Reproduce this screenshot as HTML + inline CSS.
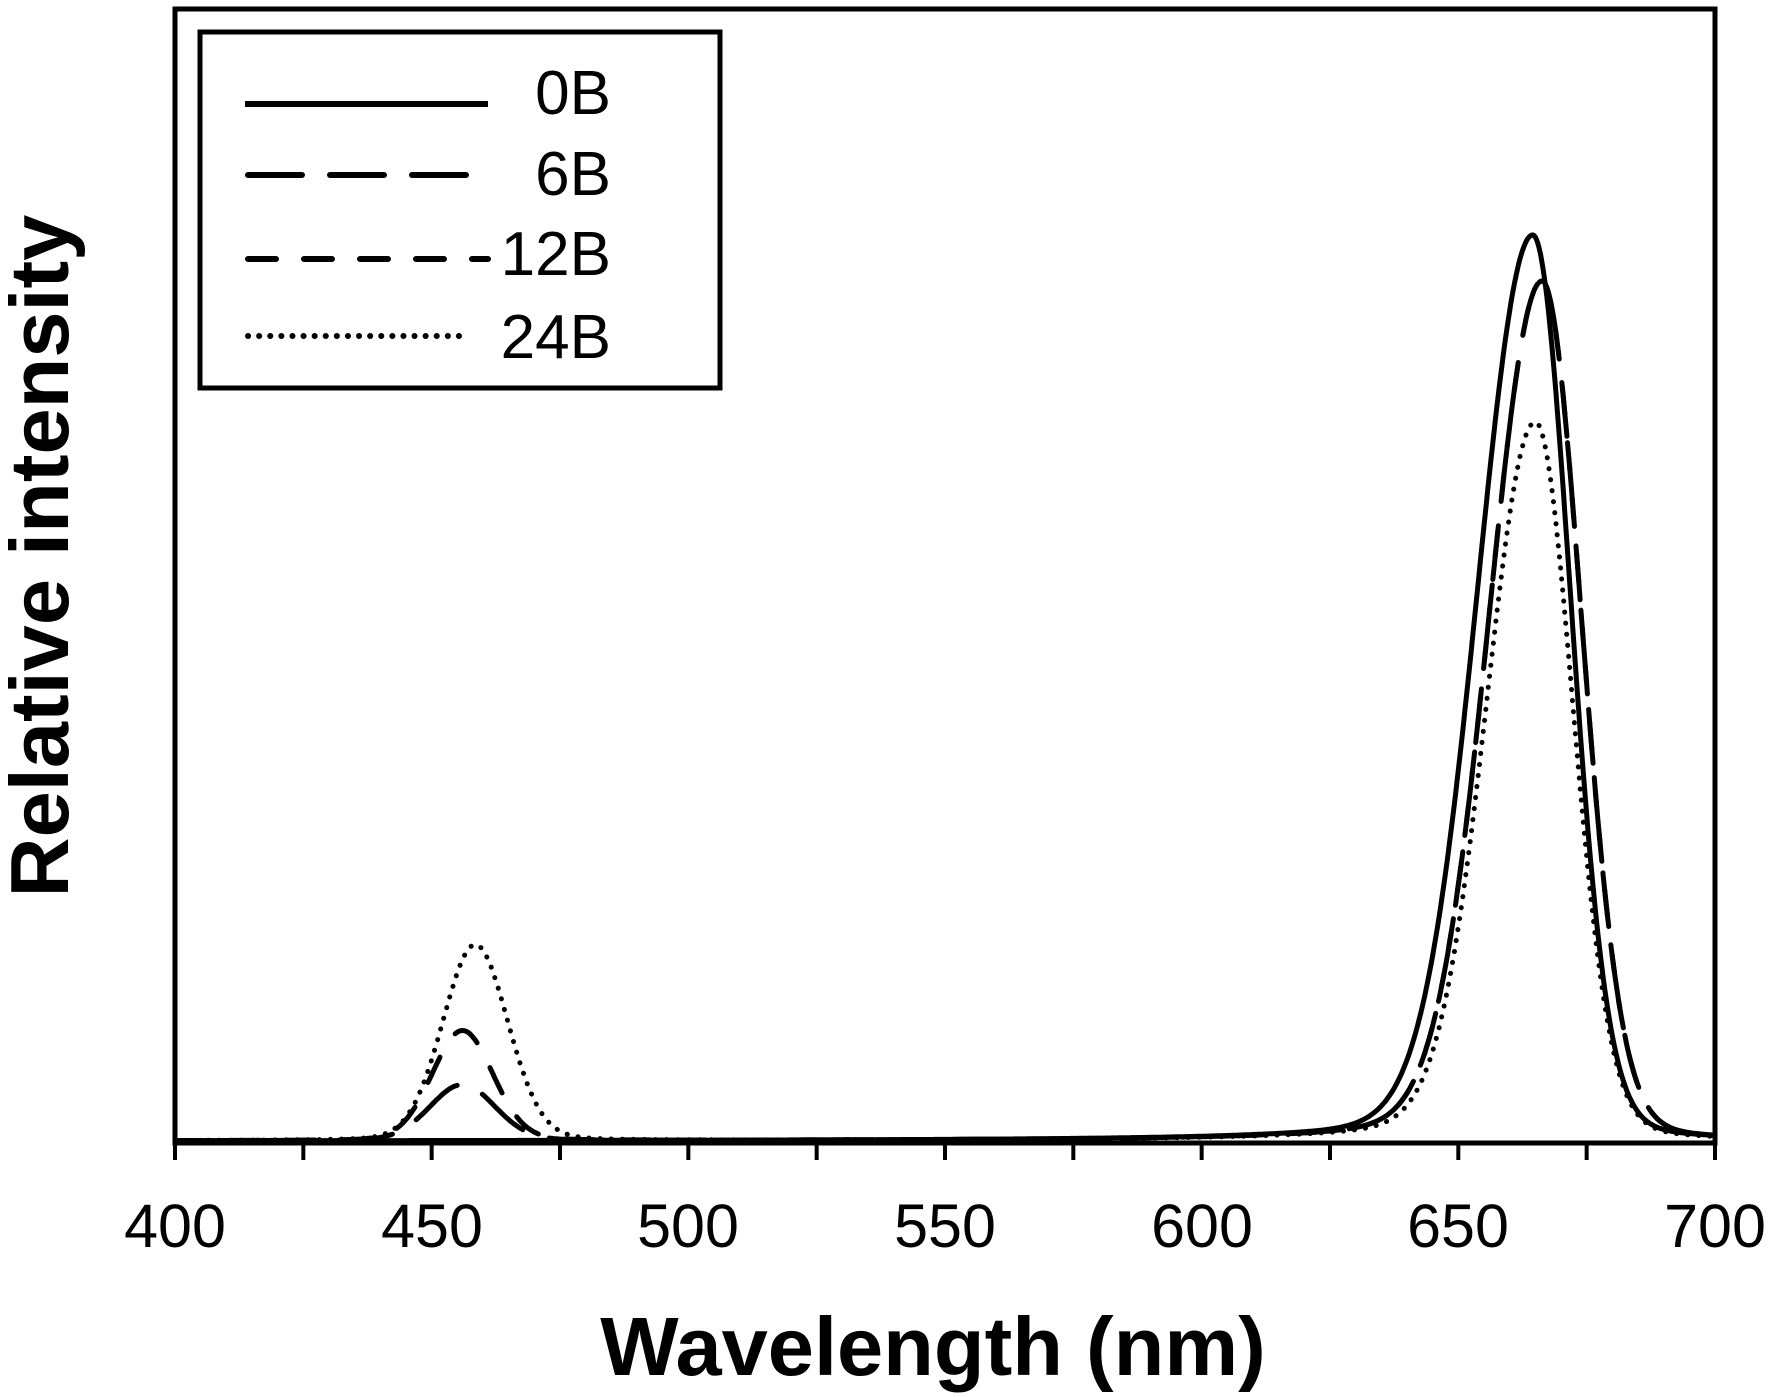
<!DOCTYPE html>
<html><head><meta charset="utf-8"><style>
html,body{margin:0;padding:0;background:#fff}
svg{display:block}
text{font-family:"Liberation Sans",Arial,sans-serif;fill:#000}
</style></head><body>
<svg id="s" width="1773" height="1397" viewBox="0 0 1773 1397" xmlns="http://www.w3.org/2000/svg">
<rect x="175" y="9" width="1540" height="1134" fill="none" stroke="#000" stroke-width="5"/>
<g id="ticks" stroke="#000" stroke-width="4"></g>
<g font-size="61" text-anchor="middle">
<text x="175" y="1247">400</text><text x="432" y="1247">450</text><text x="688" y="1247">500</text>
<text x="945" y="1247">550</text><text x="1202" y="1247">600</text><text x="1458" y="1247">650</text>
<text x="1715" y="1247">700</text>
</g>
<text x="933" y="1375" font-size="83" font-weight="bold" text-anchor="middle">Wavelength (nm)</text>
<text transform="translate(68,556) rotate(-90)" font-size="83" font-weight="bold" text-anchor="middle">Relative intensity</text>
<g id="curves" fill="none" stroke="#000" stroke-width="5"></g>
<rect x="200" y="32" width="520" height="356" fill="#fff" stroke="#000" stroke-width="5"/>
<g stroke="#000" stroke-width="6" fill="none">
<line x1="245" y1="104" x2="488" y2="104"/>
<line x1="248" y1="175" x2="488" y2="175" stroke-dasharray="54,28" stroke-linecap="round"/>
<line x1="248" y1="259" x2="488" y2="259" stroke-dasharray="28,28" stroke-linecap="round"/>
<line x1="248" y1="336" x2="470" y2="336" stroke-dasharray="0.1,11" stroke-linecap="round"/>
</g>
<g font-size="62" text-anchor="end">
<text x="611" y="114">0B</text><text x="611" y="195">6B</text>
<text x="611" y="275">12B</text><text x="611" y="358">24B</text>
</g>
</svg>
<script>
var NS="http://www.w3.org/2000/svg";
function X(w){return 175+(w-400)*5.1333;}
var t=document.getElementById("ticks");
for(var w=400;w<=700;w+=25){var l=document.createElementNS(NS,"line");l.setAttribute("x1",X(w));l.setAttribute("x2",X(w));l.setAttribute("y1",1143);l.setAttribute("y2",1160);t.appendChild(l);}
function red(w,p,A,L,R){var d=w-p,s=d<0?L:R,u=d/s,v=d/(d<0?20:12);return A*(0.94*Math.exp(-0.693*u*u)+0.06/(1+v*v));}
function blue(w,p,A,s){var u=(w-p)/s;return A*(0.1/(1+u*u)+0.9*Math.exp(-0.693*u*u));}
var S=[
{r:[664.5,906,12.5,8.5],b:[456,0,7],dash:""},
{r:[666.3,860,12,9],b:[456,56,7.5],dash:"54,28"},
{r:[666.3,860,12,9],b:[456,110,7],dash:"28,28"},
{r:[665,719,11,8.5],b:[458.5,196,7.5],dash:"0.1,11"}
];
var g=document.getElementById("curves");
S.forEach(function(s){var d="";for(var w=400;w<=700;w+=0.25){var y=red(w,s.r[0],s.r[1],s.r[2],s.r[3])+blue(w,s.b[0],s.b[1],s.b[2]);
d+=(d?"L":"M")+X(w).toFixed(1)+","+(1141-y).toFixed(1);}
var p=document.createElementNS(NS,"path");p.setAttribute("d",d);if(s.dash){p.setAttribute("stroke-dasharray",s.dash);p.setAttribute("stroke-linecap","round");}
g.appendChild(p);});
</script>
</body></html>
